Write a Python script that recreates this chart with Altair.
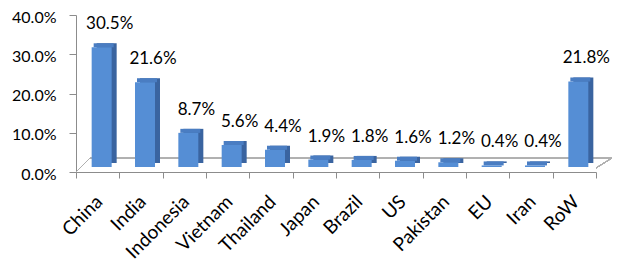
import altair as alt
import pandas as pd

countries = ["China", "India", "Indonesia", "Vietnam", "Thailand", "Japan",
             "Brazil", "US", "Pakistan", "EU", "Iran", "RoW"]
shares = [30.5, 21.6, 8.7, 5.6, 4.4, 1.9, 1.8, 1.6, 1.2, 0.4, 0.4, 21.8]
y_ticks = [0.0, 0.1, 0.2, 0.3, 0.4]

df = pd.DataFrame({"country": countries, "share": [s / 100 for s in shares]})

FONT = "Lato"
W, H = 520, 157

x_enc = alt.X("country:N", sort=countries, title=None,
              scale=alt.Scale(paddingInner=0, paddingOuter=0),
              axis=alt.Axis(labelAngle=-45, labelFontSize=19, labelFont=FONT,
                            labelColor="black", tickBand="extent", tickSize=6,
                            tickColor="#8c8c8c", domainColor="#8c8c8c",
                            labelPadding=14, labelOffset=-5))
y_enc = alt.Y("share:Q", title=None,
              scale=alt.Scale(domain=[0, 0.4], nice=False),
              axis=alt.Axis(values=y_ticks, format=".1%", labelFontSize=16,
                            labelFont=FONT, labelColor="black", grid=False,
                            tickSize=7, tickColor="#8c8c8c",
                            domainColor="#8c8c8c", labelPadding=13,
                            labelOffset=2))

base = alt.Chart(df)

side = base.mark_bar(size=20, color="#3A64A0", xOffset=9, yOffset=-9,
                     y2Offset=-9).encode(x=x_enc, y=y_enc, y2=alt.datum(0))
top = base.mark_bar(size=20, color="#4A7DC2", xOffset=6, yOffset=-9,
                    y2Offset=-5).encode(x=x_enc, y=y_enc, y2="share:Q")
front = base.mark_bar(size=20, color="#558ED5", xOffset=4, yOffset=-5,
                      y2Offset=-5).encode(x=x_enc, y=y_enc, y2=alt.datum(0))
labels = base.mark_text(font=FONT, fontSize=17, color="black", baseline="bottom",
                        dx=12, dy=-19).encode(
    x=x_enc, y=y_enc, text=alt.Text("share:Q", format=".1%"))

floor_style = dict(color="#b0b0b0", strokeWidth=1)
floor_left = alt.Chart(df).mark_rule(**floor_style).encode(
    x=alt.value(0), y=alt.value(H), x2=alt.value(14), y2=alt.value(H - 14))
floor_back = alt.Chart(df).mark_rule(**floor_style).encode(
    x=alt.value(14), y=alt.value(H - 14), x2=alt.value(W + 16), y2=alt.value(H - 14))
floor_right = alt.Chart(df).mark_rule(**floor_style).encode(
    x=alt.value(W), y=alt.value(H - 4), x2=alt.value(W + 16), y2=alt.value(H - 14))

chart = alt.layer(floor_left, floor_back, floor_right, side, top, front, labels).properties(
    width=W, height=H,
    autosize=alt.AutoSizeParams(type="none"),
    padding={"left": 76, "top": 15, "right": 29, "bottom": 92},
).configure_view(stroke=None)

chart.save("out.html", embed_options={"renderer": "svg", "actions": False})
